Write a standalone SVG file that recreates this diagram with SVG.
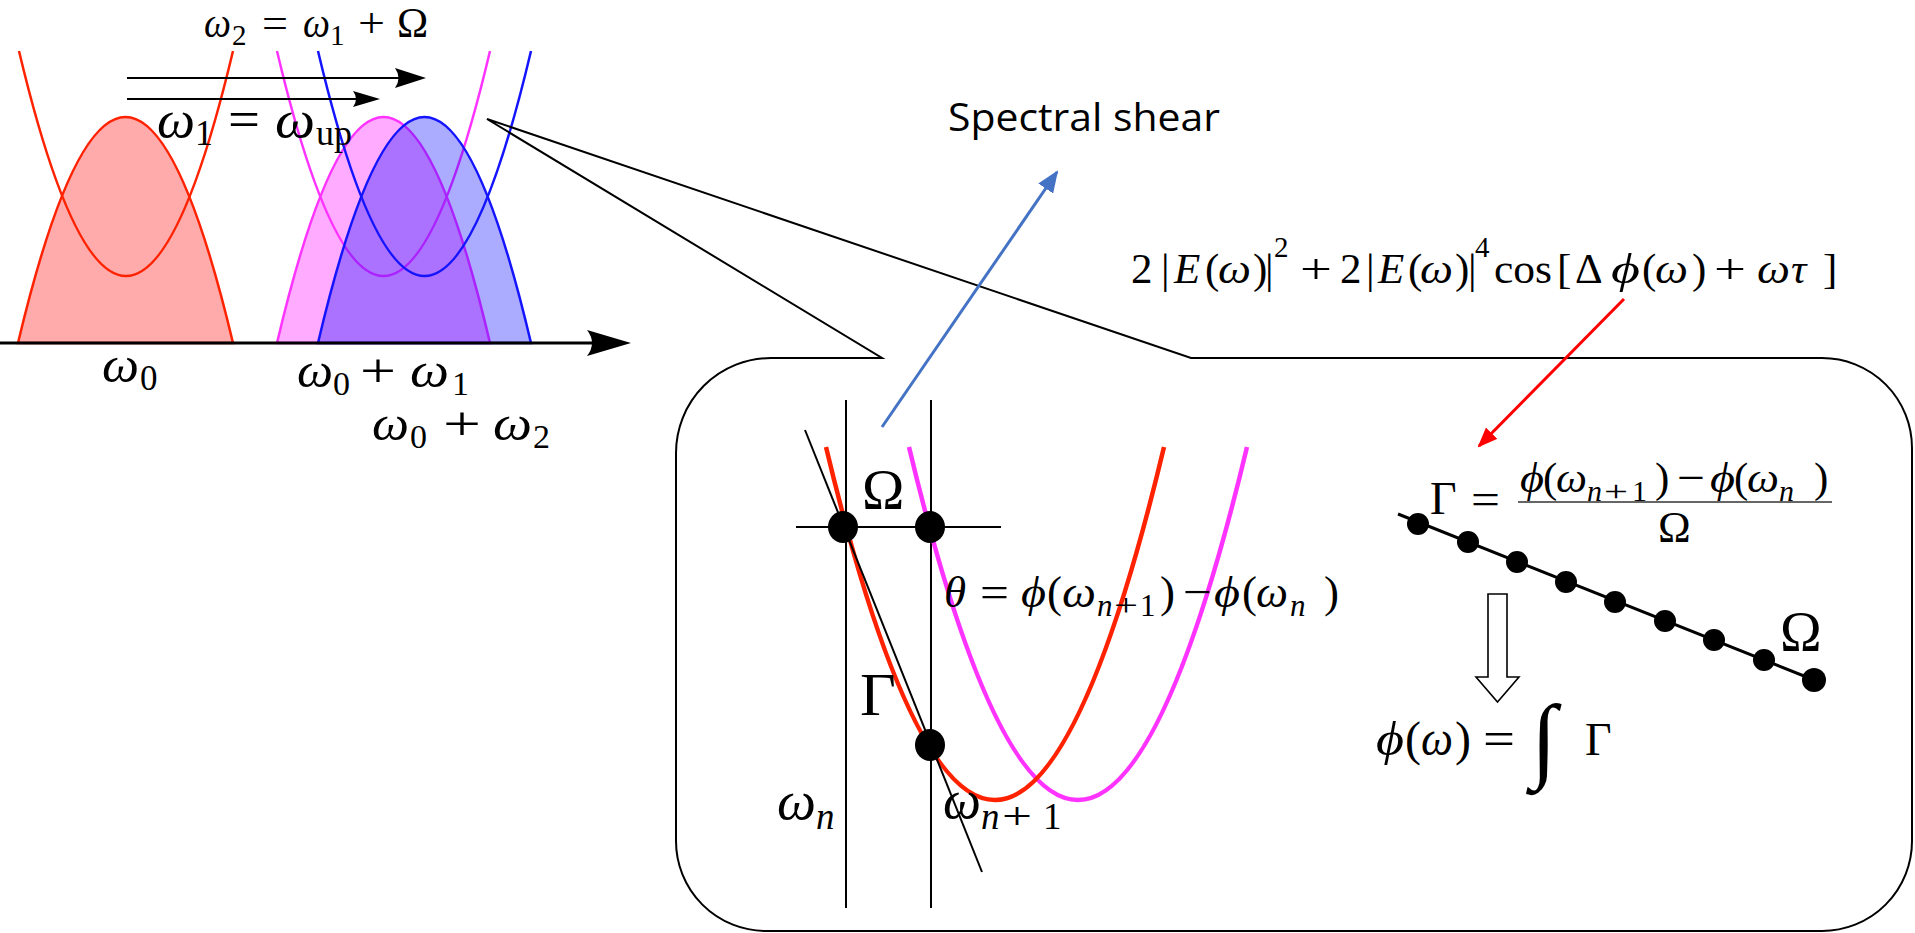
<svg xmlns="http://www.w3.org/2000/svg" width="1915" height="933" viewBox="0 0 1915 933">
<style>
.m{font-family:"Liberation Serif","DejaVu Serif",serif;fill:#000}
.i{font-style:italic}
.ln{stroke:#000;stroke-width:2;fill:none}
.red{stroke:#ff2200;fill:none}
.mag{stroke:#ff33ff;fill:none}
.blu{stroke:#1414ff;fill:none}
.dot{fill:#000}
</style>
<defs>
<marker id="ahBlue" viewBox="0 0 22 18" refX="20" refY="9" markerWidth="22" markerHeight="18" markerUnits="userSpaceOnUse" orient="auto"><path d="M0,0 L22,9 L0,18 Z" fill="#4472c4"/></marker>
<marker id="ahRed" viewBox="0 0 20 16" refX="18" refY="8" markerWidth="20" markerHeight="16" markerUnits="userSpaceOnUse" orient="auto"><path d="M0,0 L20,8 L0,16 Z" fill="#ff0000"/></marker>
</defs>
<rect width="1915" height="933" fill="#fff"/>

<g id="spectrum">
  <path d="M18,343 Q125.5,-109 233,343 Z" fill="rgba(255,0,0,0.33)" stroke="#ff2200" stroke-width="2.5"/>
  <path d="M19,51 Q126,501 233,51" class="red" stroke-width="2.5"/>
  <path d="M277,343 Q383.5,-109 490,343 Z" fill="rgba(255,0,255,0.33)" stroke="#ff33ff" stroke-width="2.5"/>
  <path d="M277,51 Q383.5,501 490,51" class="mag" stroke-width="2.5"/>
  <path d="M318,343 Q424.5,-109 531,343 Z" fill="rgba(0,0,255,0.33)" stroke="#1414ff" stroke-width="2.5"/>
  <path d="M318,51 Q424.5,501 531,51" class="blu" stroke-width="2.5"/>
  <line x1="0" y1="343" x2="600" y2="343" stroke="#000" stroke-width="3"/>
  <path d="M631,343 L587,330 Q597,343 587,356 Z" fill="#000"/>
  <line x1="127" y1="78" x2="410" y2="78" stroke="#000" stroke-width="2"/>
  <path d="M426,78 L395,68 Q402,78 395,88 Z" fill="#000"/>
  <line x1="127" y1="99" x2="366" y2="99" stroke="#000" stroke-width="2"/>
  <path d="M380,99 L353,91 Q359,99 353,107 Z" fill="#000"/>
  <text class="m" font-size="42" y="37"><tspan x="204" class="i" textLength="27" lengthAdjust="spacingAndGlyphs">ω</tspan><tspan x="232" y="45" font-size="29">2</tspan><tspan x="262" y="37" textLength="26" lengthAdjust="spacingAndGlyphs">=</tspan><tspan x="303" class="i" textLength="27" lengthAdjust="spacingAndGlyphs">ω</tspan><tspan x="330" y="45" font-size="29">1</tspan><tspan x="358" y="37" textLength="27" lengthAdjust="spacingAndGlyphs">+</tspan><tspan x="397">Ω</tspan></text>
  <text class="m" font-size="52" y="137"><tspan x="157" class="i" textLength="38" lengthAdjust="spacingAndGlyphs">ω</tspan><tspan x="195" y="145" font-size="36">1</tspan><tspan x="228" y="137" textLength="32" lengthAdjust="spacingAndGlyphs">=</tspan><tspan x="275" class="i" textLength="40" lengthAdjust="spacingAndGlyphs">ω</tspan><tspan x="316" y="145" font-size="36">up</tspan></text>
  <text class="m" font-size="50" y="382"><tspan x="102" class="i" textLength="37" lengthAdjust="spacingAndGlyphs">ω</tspan><tspan x="140" y="390" font-size="35">0</tspan></text>
  <text class="m" font-size="48" y="387"><tspan x="297" class="i" textLength="36" lengthAdjust="spacingAndGlyphs">ω</tspan><tspan x="333" y="395" font-size="34">0</tspan><tspan x="360" y="387" textLength="36" lengthAdjust="spacingAndGlyphs">+</tspan><tspan x="410" class="i" textLength="39" lengthAdjust="spacingAndGlyphs">ω</tspan><tspan x="452" y="395" font-size="34">1</tspan></text>
  <text class="m" font-size="48" y="440"><tspan x="372" class="i" textLength="37" lengthAdjust="spacingAndGlyphs">ω</tspan><tspan x="410" y="448" font-size="34">0</tspan><tspan x="443" y="440" textLength="38" lengthAdjust="spacingAndGlyphs">+</tspan><tspan x="493" class="i" textLength="39" lengthAdjust="spacingAndGlyphs">ω</tspan><tspan x="533" y="448" font-size="34">2</tspan></text>
</g>

<g id="callout">
  <path class="ln" d="M771,358 L882,358 L487,119 L1191,358 L1822,358 A90,90 0 0 1 1912,448 L1912,841 A90,90 0 0 1 1822,931 L766,931 A90,90 0 0 1 676,841 L676,453 A95,95 0 0 1 771,358 Z"/>
</g>

<g id="shear-label">
  <text x="948" y="131" font-family="'Open Sans','Noto Sans','Liberation Sans',sans-serif" font-size="38" textLength="272" lengthAdjust="spacingAndGlyphs">Spectral shear</text>
</g>

<g id="interferogram">
  <text class="m" font-size="43" y="283"><tspan x="1131">2</tspan><tspan x="1161">|</tspan><tspan x="1174" class="i">E</tspan><tspan x="1205">(</tspan><tspan x="1218" class="i" textLength="33" lengthAdjust="spacingAndGlyphs">ω</tspan><tspan x="1253">)</tspan><tspan x="1265">|</tspan><tspan x="1274" y="257" font-size="29">2</tspan><tspan x="1300" y="283" textLength="32" lengthAdjust="spacingAndGlyphs">+</tspan><tspan x="1340">2</tspan><tspan x="1366">|</tspan><tspan x="1378" class="i">E</tspan><tspan x="1408">(</tspan><tspan x="1420" class="i" textLength="33" lengthAdjust="spacingAndGlyphs">ω</tspan><tspan x="1455">)</tspan><tspan x="1468">|</tspan><tspan x="1475" y="257" font-size="29">4</tspan><tspan x="1494" y="283" textLength="58" lengthAdjust="spacingAndGlyphs">cos</tspan><tspan x="1557">[</tspan><tspan x="1575">Δ</tspan><tspan x="1611" class="i" textLength="29" lengthAdjust="spacingAndGlyphs">ϕ</tspan><tspan x="1642">(</tspan><tspan x="1655" class="i" textLength="33" lengthAdjust="spacingAndGlyphs">ω</tspan><tspan x="1692">)</tspan><tspan x="1714" textLength="32" lengthAdjust="spacingAndGlyphs">+</tspan><tspan x="1757" class="i" textLength="33" lengthAdjust="spacingAndGlyphs">ω</tspan><tspan x="1791" class="i">τ</tspan><tspan x="1823">]</tspan></text>
</g>

<g id="phase-diagram">
  <line class="ln" x1="846" y1="400" x2="846" y2="908"/>
  <line class="ln" x1="931" y1="400" x2="931" y2="908"/>
  <line class="ln" x1="796" y1="527" x2="1001" y2="527"/>
  <path d="M909,447 Q1078,1153 1247,447" class="mag" stroke-width="4.5"/>
  <path d="M826,447 Q995,1153 1164,447" class="red" stroke-width="4.5"/>
  <line class="ln" x1="805" y1="430" x2="982" y2="872"/>
  <ellipse class="dot" cx="843" cy="527" rx="15" ry="16"/>
  <ellipse class="dot" cx="930" cy="527" rx="15" ry="16"/>
  <ellipse class="dot" cx="930" cy="745" rx="15" ry="16"/>
  <text class="m" font-size="57" x="862" y="509">Ω</text>
  <text class="m" font-size="62" x="860" y="715">Γ</text>
  <text class="m" font-size="45" y="607"><tspan x="944" class="i">θ</tspan><tspan x="980" textLength="29" lengthAdjust="spacingAndGlyphs">=</tspan><tspan x="1021" class="i" textLength="25" lengthAdjust="spacingAndGlyphs">ϕ</tspan><tspan x="1047">(</tspan><tspan x="1062" class="i" textLength="34" lengthAdjust="spacingAndGlyphs">ω</tspan><tspan x="1097" y="616" font-size="31" class="i">n</tspan><tspan x="1114" font-size="31" textLength="24" lengthAdjust="spacingAndGlyphs">+</tspan><tspan x="1140" font-size="31">1</tspan><tspan x="1160" y="607">)</tspan><tspan x="1183" textLength="29" lengthAdjust="spacingAndGlyphs">−</tspan><tspan x="1214" class="i" textLength="26" lengthAdjust="spacingAndGlyphs">ϕ</tspan><tspan x="1242">(</tspan><tspan x="1256" class="i" textLength="32" lengthAdjust="spacingAndGlyphs">ω</tspan><tspan x="1290" y="616" font-size="31" class="i">n</tspan><tspan x="1324" y="607">)</tspan></text>
  <text class="m" font-size="54" y="819"><tspan x="777" class="i" textLength="39" lengthAdjust="spacingAndGlyphs">ω</tspan><tspan x="816" y="829" font-size="37" class="i">n</tspan></text>
  <text class="m" font-size="54" y="818"><tspan x="943" class="i" textLength="38" lengthAdjust="spacingAndGlyphs">ω</tspan><tspan x="981" y="829" font-size="37" class="i">n</tspan><tspan x="1002" font-size="37" textLength="30" lengthAdjust="spacingAndGlyphs">+</tspan><tspan x="1043" font-size="37">1</tspan></text>
</g>

<g id="gamma-plot">
  <text class="m" font-size="46" x="1430" y="514">Γ</text>
  <text class="m" font-size="44" x="1471" y="514" textLength="29" lengthAdjust="spacingAndGlyphs">=</text>
  <text class="m" font-size="43" y="492"><tspan x="1520" class="i" textLength="24" lengthAdjust="spacingAndGlyphs">ϕ</tspan><tspan x="1543">(</tspan><tspan x="1556" class="i" textLength="31" lengthAdjust="spacingAndGlyphs">ω</tspan><tspan x="1587" y="501" font-size="30" class="i">n</tspan><tspan x="1604" font-size="30" textLength="24" lengthAdjust="spacingAndGlyphs">+</tspan><tspan x="1632" font-size="30">1</tspan><tspan x="1655" y="492">)</tspan><tspan x="1677" textLength="28" lengthAdjust="spacingAndGlyphs">−</tspan><tspan x="1710" class="i" textLength="25" lengthAdjust="spacingAndGlyphs">ϕ</tspan><tspan x="1734">(</tspan><tspan x="1747" class="i" textLength="32" lengthAdjust="spacingAndGlyphs">ω</tspan><tspan x="1779" y="501" font-size="30" class="i">n</tspan><tspan x="1814" y="492">)</tspan></text>
  <line x1="1518" y1="502" x2="1832" y2="502" stroke="#333" stroke-width="1.6"/>
  <text class="m" font-size="44" x="1658" y="542">Ω</text>
  <line x1="1398" y1="514" x2="1814" y2="680" stroke="#000" stroke-width="3"/>
  <circle class="dot" cx="1418" cy="524" r="11"/>
  <circle class="dot" cx="1468" cy="542" r="11"/>
  <circle class="dot" cx="1517" cy="562" r="11"/>
  <circle class="dot" cx="1566" cy="582" r="11"/>
  <circle class="dot" cx="1615" cy="602" r="11"/>
  <circle class="dot" cx="1665" cy="621" r="11"/>
  <circle class="dot" cx="1714" cy="640" r="11"/>
  <circle class="dot" cx="1764" cy="660" r="11"/>
  <circle class="dot" cx="1814" cy="680" r="12"/>
  <text class="m" font-size="56" x="1780" y="651">Ω</text>
  <path d="M1488,594 L1507,594 L1507,677 L1519,677 L1497.5,702 L1476,677 L1488,677 Z" fill="#fff" stroke="#000" stroke-width="1.6"/>
  <text class="m" font-size="48" y="755"><tspan x="1376" class="i" textLength="28" lengthAdjust="spacingAndGlyphs">ϕ</tspan><tspan x="1405">(</tspan><tspan x="1421" class="i" textLength="32" lengthAdjust="spacingAndGlyphs">ω</tspan><tspan x="1455">)</tspan><tspan x="1483" textLength="32" lengthAdjust="spacingAndGlyphs">=</tspan></text>
  <text class="m" font-size="94" x="1531" y="770">∫</text>
  <text class="m" font-size="46" x="1585" y="755">Γ</text>
</g>

<g id="connectors">
  <line x1="882" y1="427" x2="1057" y2="172" stroke="#4472c4" stroke-width="3" marker-end="url(#ahBlue)"/>
  <line x1="1624" y1="299" x2="1479" y2="446" stroke="#ff0000" stroke-width="3" marker-end="url(#ahRed)"/>
</g>
</svg>
